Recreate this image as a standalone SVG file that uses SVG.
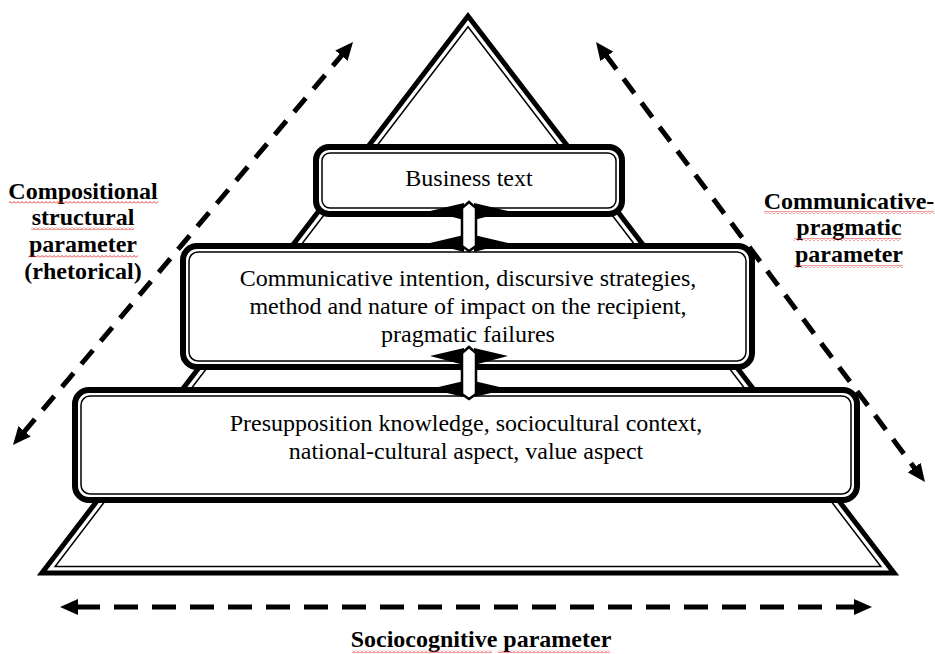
<svg xmlns="http://www.w3.org/2000/svg" width="935" height="654" viewBox="0 0 935 654">
<defs>
<style>
.outer{fill:none;stroke:#000;stroke-width:5;stroke-linejoin:miter}
.inner{fill:none;stroke:#000;stroke-width:1.5}
.boxo{fill:#fff;stroke:#000;stroke-width:6}
.boxi{fill:none;stroke:#000;stroke-width:1.5}
.t{font-family:"Liberation Serif","Times New Roman",serif;font-size:24px;fill:#000;text-anchor:middle}
.b{font-weight:bold}
.dash{fill:none;stroke:#000;stroke-width:5;stroke-dasharray:18 12;marker-start:url(#ah);marker-end:url(#ah)}
.hdash{stroke-dasharray:24 14}
.hex{fill:#fff;stroke:#000;stroke-width:2.5}
.wing{fill:#000}
.sq{fill:url(#squig)}
</style>
<marker id="ah" viewBox="0 0 18 16" markerWidth="18" markerHeight="16" refX="2" refY="8" orient="auto-start-reverse" markerUnits="userSpaceOnUse">
<path d="M0,0 L18,8 L0,16 Z" fill="#000"/>
</marker>
<pattern id="squig" width="4" height="3" patternUnits="userSpaceOnUse">
<path d="M0,2.5 L2,0.5 L4,2.5" fill="none" stroke="#e02020" stroke-width="0.9"/>
</pattern>
</defs>
<rect width="935" height="654" fill="#fff"/>

<g id="pyramid">
<path class="outer" d="M468,16 L357.8,160 L578.2,160 Z"/>
<path class="inner" d="M468,26.7 L366,160 L570,160 Z"/>
<path class="outer" d="M327.2,200 L281.3,260 L654.7,260 L608.8,200 Z"/>
<path class="inner" d="M331.6,205 L293.4,255 L642.6,255 L604.4,205 Z"/>
<path class="outer" d="M208.7,355 L174.2,400 L761.8,400 L727.3,355 Z"/>
<path class="inner" d="M213,360 L186.3,395 L749.7,395 L723,360 Z"/>
<path class="outer" d="M105.4,490 L41.9,573 L894.1,573 L830.6,490 Z"/>
<path class="inner" d="M109.7,495 L55.1,566.5 L880.9,566.5 L826.3,495 Z"/>
</g>

<g id="box-business">
<rect class="boxo" x="316" y="147" width="306" height="67" rx="13"/>
<rect class="boxi" x="322" y="153" width="294" height="55" rx="8"/>
<text class="t" x="469" y="186">Business text</text>
</g>

<g id="box-communicative">
<rect class="boxo" x="183" y="246" width="569" height="121" rx="14"/>
<rect class="boxi" x="189" y="252" width="557" height="109" rx="9"/>
<text class="t" x="468" y="286">Communicative intention, discursive strategies,</text>
<text class="t" x="468" y="314">method and nature of impact on the recipient,</text>
<text class="t" x="468" y="342">pragmatic failures</text>
</g>

<g id="box-presupposition">
<rect class="boxo" x="75" y="390" width="782" height="110" rx="14"/>
<rect class="boxi" x="81" y="396" width="770" height="98" rx="9"/>
<text class="t" x="466" y="431">Presupposition knowledge, sociocultural context,</text>
<text class="t" x="466" y="459">national-cultural aspect, value aspect</text>
</g>

<g id="arrow-top">
<path class="wing" d="M430,211 L464,203 L464,220 Z M508,211 L474,203 L474,220 Z"/>
<path class="wing" d="M430,243 L464,235 L464,252 Z M508,243 L474,235 L474,252 Z"/>
<path class="hex" d="M462,208 L469,202 L476,208 L476,246 L469,251 L462,246 Z"/>
</g>

<g id="arrow-bottom">
<path class="wing" d="M430,356 L464,348 L464,365 Z M508,356 L474,348 L474,365 Z"/>
<path class="wing" d="M430,389 L464,381 L464,397 Z M508,389 L474,381 L474,397 Z"/>
<path class="hex" d="M462,353 L469,347 L476,353 L476,394 L469,399 L462,394 Z"/>
</g>

<g id="connectors">
<line class="dash" x1="23.3" y1="432.8" x2="342.7" y2="54.2"/>
<line class="dash" x1="605.6" y1="54.8" x2="915.4" y2="469.2"/>
<line class="dash hdash" x1="76" y1="607" x2="856" y2="607"/>
</g>

<g id="label-left">
<text class="t b" x="83" y="199">Compositional</text>
<text class="t b" x="83" y="225">structural</text>
<text class="t b" x="83" y="252">parameter</text>
<text class="t b" x="83" y="279">(rhetorical)</text>
<rect class="sq" x="9" y="201" width="149" height="3"/>
<rect class="sq" x="31" y="227" width="103" height="3"/>
<rect class="sq" x="28" y="255" width="110" height="3"/>
</g>

<g id="label-right">
<text class="t b" x="849" y="209">Communicative-</text>
<text class="t b" x="849" y="235">pragmatic</text>
<text class="t b" x="849" y="262">parameter</text>
<rect class="sq" x="764" y="211" width="170" height="3"/>
<rect class="sq" x="794" y="238" width="107" height="3"/>
<rect class="sq" x="794" y="265" width="109" height="3"/>
</g>

<g id="label-bottom">
<text class="t b" x="481" y="647">Sociocognitive parameter</text>
<rect class="sq" x="352" y="650" width="140" height="3"/>
<rect class="sq" x="498" y="650" width="112" height="3"/>
</g>
</svg>
